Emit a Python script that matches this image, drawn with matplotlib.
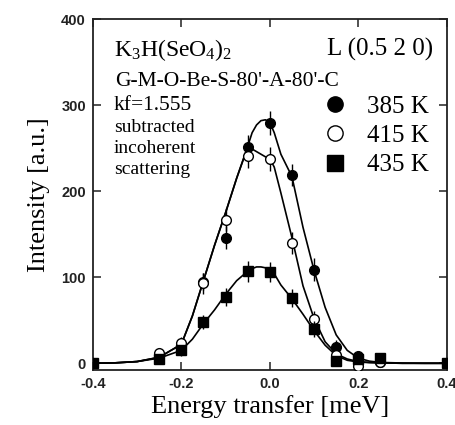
import numpy as np
import matplotlib
matplotlib.use('Agg')
import matplotlib.pyplot as plt
from matplotlib.lines import Line2D

plt.rcParams['font.family'] = 'Liberation Serif'
plt.rcParams['mathtext.fontset'] = 'custom'
plt.rcParams['mathtext.rm'] = 'Liberation Serif'
plt.rcParams['axes.unicode_minus'] = False

# measured points: energy transfer [meV] vs intensity
E = [-0.4, -0.25, -0.2, -0.15, -0.1, -0.05, 0.0, 0.05, 0.1, 0.15, 0.2, 0.25, 0.4]
I385 = [0, 10, 20, 95, 146, 251, 279, 219, 109, 19, 8, 2, 0]
I415 = [0, 12, 24, 93, 167, 241, 237, 140, 51, 10, -3, 1, 0]
I435 = [0, 5, 15, 48, 77, 107, 106, 76, 40, 3, 5, 6, 0]
err385 = [3, 5, 6, 10, 13, 14, 14, 13, 13, 8, 5, 4, 3]
err415 = [3, 5, 6, 12, 13, 14, 14, 13, 10, 7, 5, 4, 3]
err435 = [3, 5, 6, 8, 10, 12, 12, 10, 9, 6, 5, 4, 3]

# fitted curves
Ef = [-0.4, -0.35, -0.3, -0.25, -0.2, -0.175, -0.15, -0.125, -0.1, -0.075,
      -0.05, -0.04, -0.03, -0.02, -0.01, 0.0, 0.01, 0.025, 0.05, 0.075,
      0.1, 0.125, 0.15, 0.175, 0.2, 0.225, 0.25, 0.3, 0.35, 0.4]
F385 = [0, 0.5, 2, 7, 22, 55, 96, 137, 175, 215,
        252, 268, 277, 282, 283, 280, 268, 243, 217, 158,
        108, 65, 33, 15, 6, 2.5, 1, 0.3, 0, 0]
F415 = [0, 0.5, 2, 7, 22, 55, 96, 137, 175, 215,
        251, 249, 246, 243, 240, 238, 228, 198, 146, 90,
        52, 25, 11, 5, 2, 1, 0.5, 0, 0, 0]
F435 = [0, 0.5, 2, 6, 15, 28, 46, 62, 80, 96,
        107, 110, 112, 112, 111, 109, 104, 91, 75, 57,
        38, 21, 9, 3.5, 1.5, 0.8, 0.5, 0, 0, 0]

fig = plt.figure(figsize=(4.55, 4.25), dpi=100)
ax = fig.add_axes([0.204, 0.129, 0.778, 0.826])

ax.plot(Ef, F385, color='k', lw=1.2)
ax.plot(Ef, F415, color='k', lw=1.2)
ax.plot(Ef, F435, color='k', lw=1.2)

ax.errorbar(E, I385, yerr=err385, fmt='o', ms=7, mfc='k', mec='k',
            ecolor='k', elinewidth=1, capsize=0, zorder=3)
ax.errorbar(E, I415, yerr=err415, fmt='o', ms=7, mfc='white', mec='k',
            mew=1, ecolor='k', elinewidth=1, capsize=0, zorder=4)
ax.errorbar(E, I435, yerr=err435, fmt='s', ms=7.5, mfc='k', mec='k',
            ecolor='k', elinewidth=1, capsize=0, zorder=5)

ax.set_xlim(-0.4, 0.4)
ax.set_ylim(-8, 400)
ax.set_xticks([-0.4, -0.2, 0.0, 0.2, 0.4])
ax.set_yticks([0, 100, 200, 300, 400])
ax.tick_params(direction='in', length=6, width=1.1, top=True, right=True,
               labelsize=10.5, colors='#222', pad=5)
for lab in ax.get_xticklabels() + ax.get_yticklabels():
    lab.set_family('Liberation Sans')
    lab.set_weight('bold')
for s in ax.spines.values():
    s.set_linewidth(1.3)
    s.set_color('#222')

ax.set_xlabel('Energy transfer [meV]', fontsize=19, labelpad=3)
ax.set_ylabel('Intensity [a.u.]', fontsize=19, labelpad=8)

ax.text(0.059, 0.895, r'K$\mathregular{_3}$H(SeO$\mathregular{_4}$)$\mathregular{_2}$',
        transform=ax.transAxes, fontsize=17, va='baseline')
ax.text(0.960, 0.895, 'L (0.5 2 0)', transform=ax.transAxes, fontsize=18,
        ha='right', va='baseline')
ax.text(0.062, 0.809, "G-M-O-Be-S-80'-A-80'-C", transform=ax.transAxes,
        fontsize=15.5, va='baseline')
ax.text(0.059, 0.741, 'kf=1.555', transform=ax.transAxes, fontsize=15.5,
        va='baseline')
for yy, line in zip([0.678, 0.618, 0.558], ['subtracted', 'incoherent', 'scattering']):
    ax.text(0.059, yy, line, transform=ax.transAxes, fontsize=14, va='baseline')

handles = [
    Line2D([], [], ls='none', marker='o', ms=11, mfc='k', mec='k'),
    Line2D([], [], ls='none', marker='o', ms=11, mfc='white', mec='k', mew=1),
    Line2D([], [], ls='none', marker='s', ms=11, mfc='k', mec='k'),
]
ax.legend(handles, ['385 K', '415 K', '435 K'], loc='upper left',
          bbox_to_anchor=(0.648, 0.783), frameon=False, fontsize=18,
          handlelength=1.0, handletextpad=0.8, labelspacing=0.27,
          borderpad=0, borderaxespad=0)

fig.savefig('out.png', dpi=100)
